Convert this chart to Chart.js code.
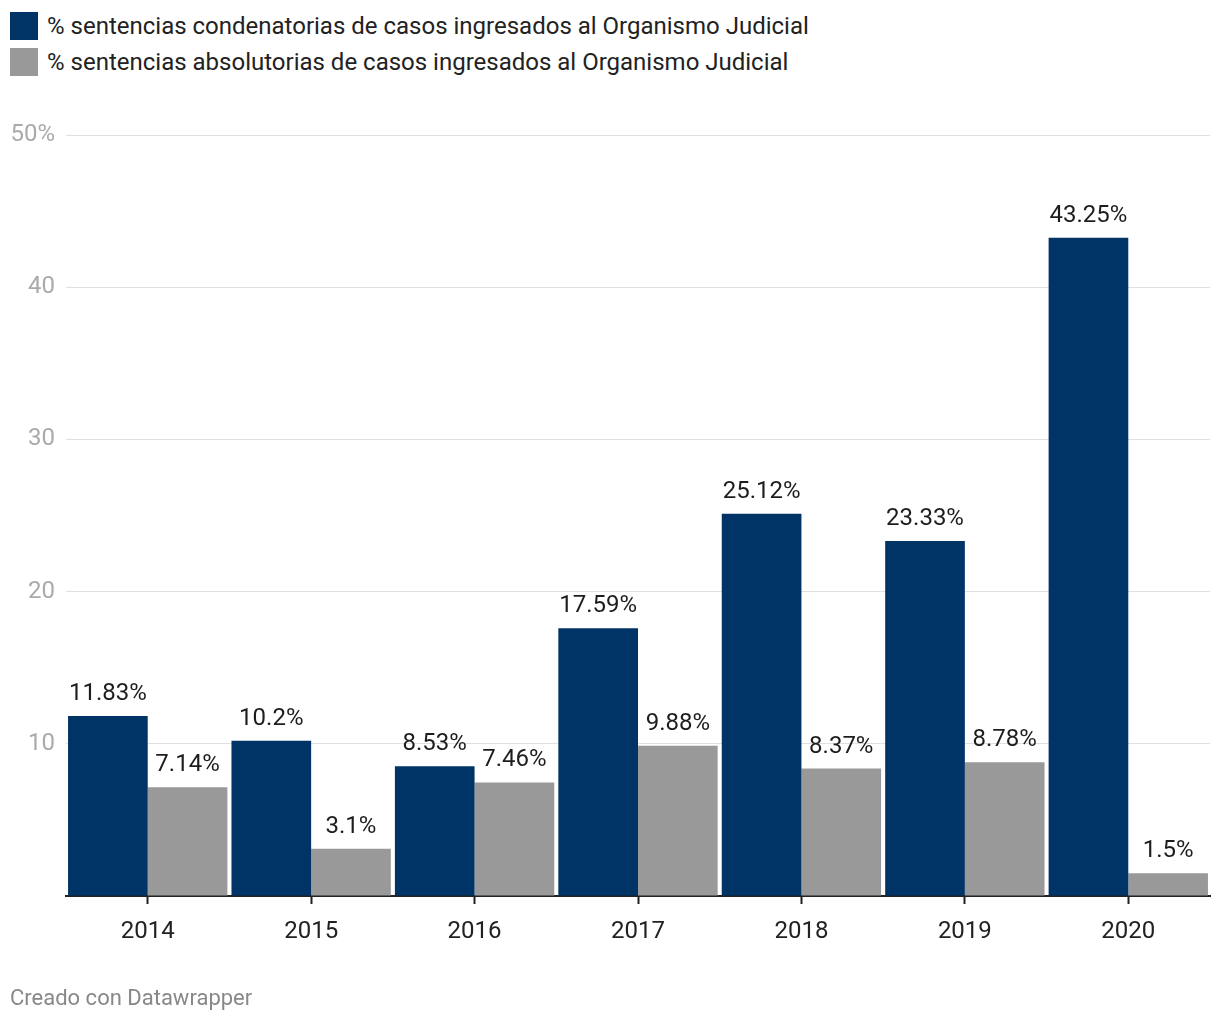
<!DOCTYPE html>
<html lang="es">
<head>
<meta charset="utf-8">
<script src="https://cdn.jsdelivr.net/npm/chart.js@4.4.1/dist/chart.umd.min.js"></script>
<style>
  html, body { margin: 0; padding: 0; background: #fff; }
  body { width: 1220px; height: 1020px; position: relative; font-family: Roboto, "Noto Sans", sans-serif; overflow: hidden; }
  #legend { position: absolute; left: 10px; top: 12px; }
  .legend-item { display: flex; align-items: center; height: 28px; margin-bottom: 8px; font-size: 24px; color: #222; }
  .legend-swatch { width: 28px; height: 28px; margin-right: 9px; flex: none; }
  #chart-wrap { position: absolute; left: 0; top: 0; width: 1220px; height: 1020px; }
  #footer { position: absolute; left: 10px; top: 985px; font-size: 22px; color: #888; }
</style>
</head>
<body>
<div id="legend"></div>
<div id="chart-wrap"><canvas id="mainChart"></canvas></div>
<div id="footer">Creado con Datawrapper</div>
<script>
// Data
const years = ['2014', '2015', '2016', '2017', '2018', '2019', '2020'];
const condenatorias = [11.83, 10.2, 8.53, 17.59, 25.12, 23.33, 43.25];
const absolutorias = [7.14, 3.1, 7.46, 9.88, 8.37, 8.78, 1.5];
const seriesLabels = [
  '% sentencias condenatorias de casos ingresados al Organismo Judicial',
  '% sentencias absolutorias de casos ingresados al Organismo Judicial'
];
const seriesColors = ['#003366', '#999999'];
const yTicks = [0, 10, 20, 30, 40, 50];

// Legend (HTML)
const legendEl = document.getElementById('legend');
seriesLabels.forEach((label, i) => {
  const row = `
    <div class="legend-item">
      <span class="legend-swatch" style="background:${seriesColors[i]}"></span>
      <span>${label}</span>
    </div>`;
  legendEl.insertAdjacentHTML('beforeend', row);
});

// Value labels above bars
const valueLabels = {
  id: 'valueLabels',
  afterDatasetsDraw(chart) {
    const ctx = chart.ctx;
    ctx.save();
    ctx.font = '24px Roboto, "Noto Sans", sans-serif';
    ctx.fillStyle = '#1d1d1d';
    ctx.textAlign = 'center';
    ctx.textBaseline = 'bottom';
    chart.data.datasets.forEach((ds, di) => {
      chart.getDatasetMeta(di).data.forEach((bar, i) => {
        ctx.fillText(ds.data[i] + '%', bar.x, bar.y - 10);
      });
    });
    ctx.restore();
  }
};

const ctx = document.getElementById('mainChart').getContext('2d');
new Chart(ctx, {
  type: 'bar',
  data: {
    labels: years,
    datasets: [
      { label: seriesLabels[0], data: condenatorias, backgroundColor: seriesColors[0] },
      { label: seriesLabels[1], data: absolutorias, backgroundColor: seriesColors[1] }
    ]
  },
  options: {
    responsive: true,
    maintainAspectRatio: false,
    animation: false,
    categoryPercentage: 0.975,
    barPercentage: 1.0,
    layout: { padding: { left: 0, right: 10, top: 135, bottom: 64 } },
    plugins: {
      legend: { display: false },
      tooltip: { enabled: false }
    },
    scales: {
      x: {
        grid: { display: true, drawOnChartArea: false, drawTicks: true, offset: false, tickLength: 8, tickColor: '#222', tickWidth: 2 },
        border: { display: true, color: '#222', width: 2 },
        ticks: { color: '#222', padding: 14, font: { family: 'Roboto', size: 24 } },
        afterFit: (scale) => { scale.height = 60; }
      },
      y: {
        min: 0,
        max: 50,
        afterBuildTicks: (scale) => { scale.ticks = yTicks.map(v => ({ value: v })); },
        grid: { color: (c) => c.tick && c.tick.value === 0 ? 'rgba(0,0,0,0)' : '#e0e0e0', lineWidth: 1, drawTicks: false },
        border: { display: false },
        ticks: {
          color: '#aaaaaa',
          padding: 11,
          font: { family: 'Roboto', size: 24 },
          callback: (v) => v === 0 ? '' : (v === 50 ? v + '%' : v)
        },
        afterFit: (scale) => { scale.width = 66; }
      }
    }
  },
  plugins: [valueLabels]
});
</script>
</body>
</html>
